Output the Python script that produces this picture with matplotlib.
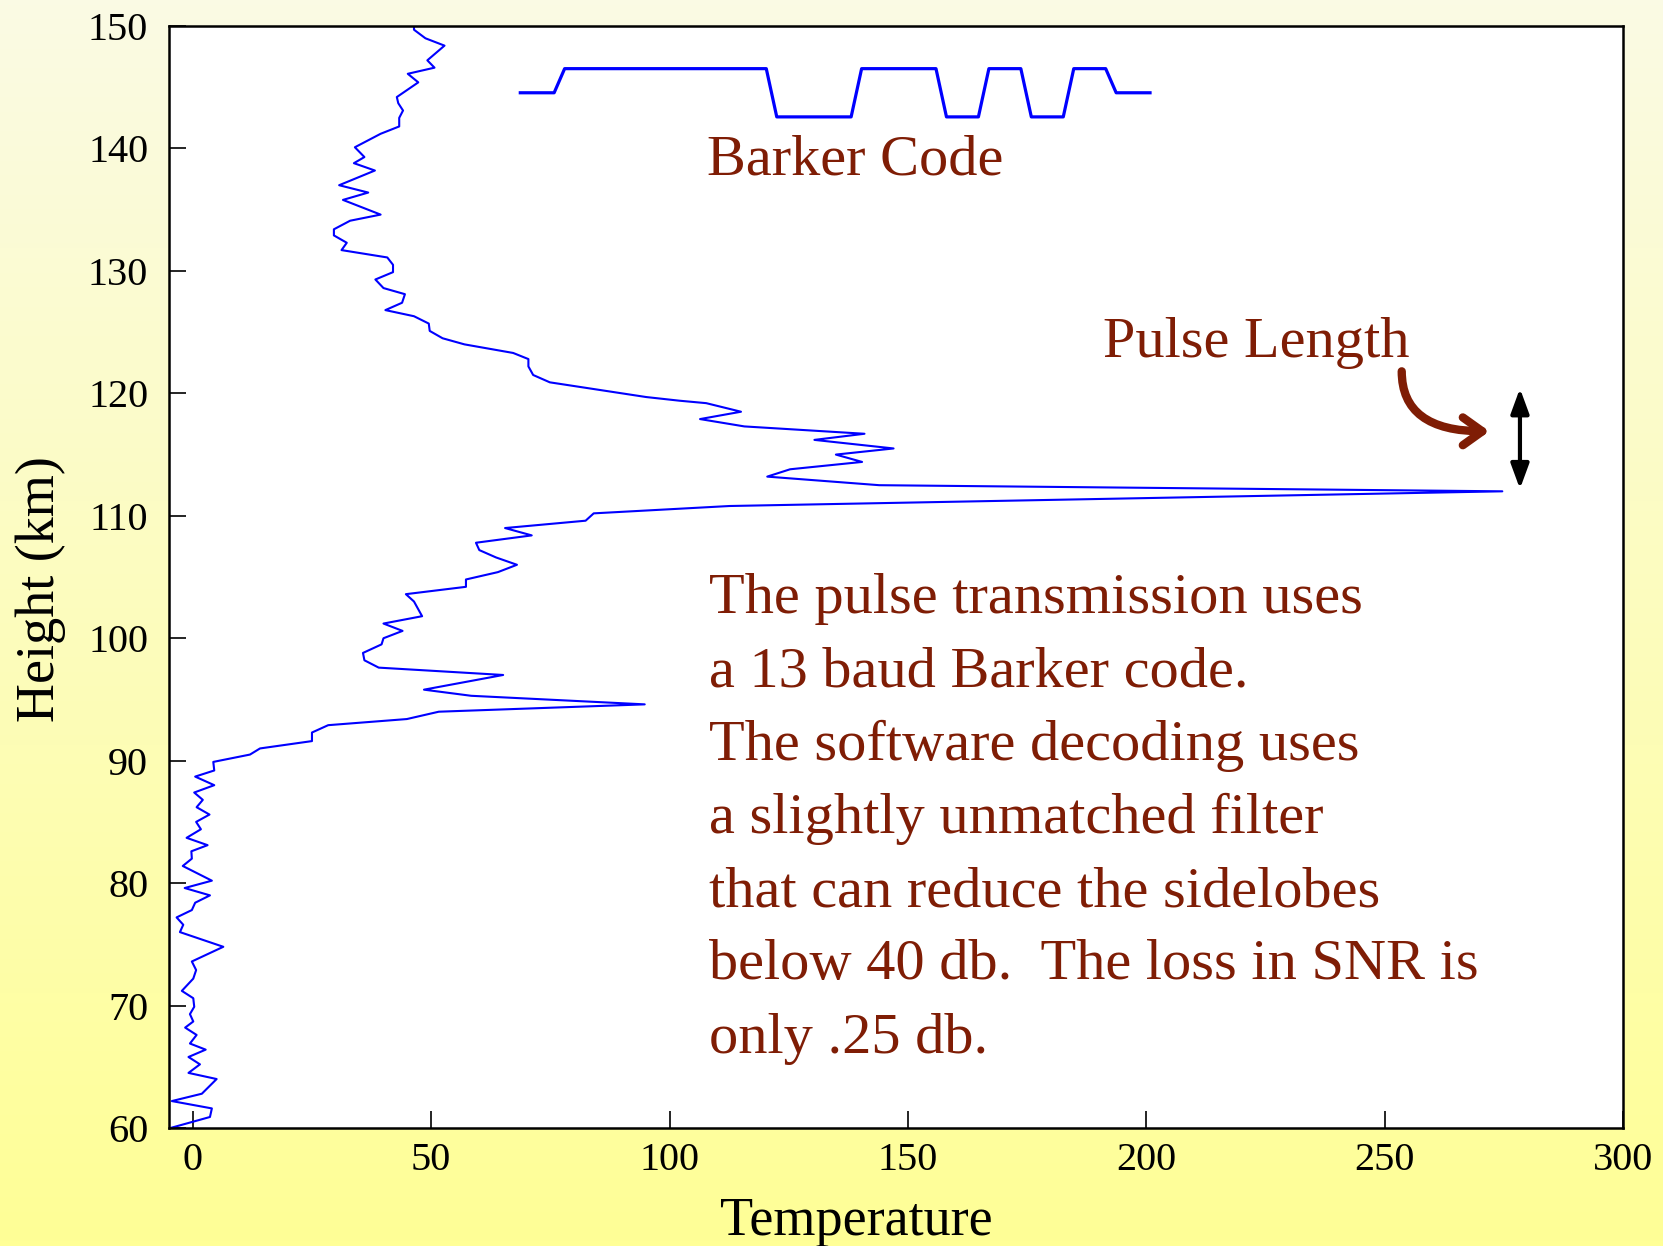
import matplotlib.pyplot as plt
import numpy as np

plt.rcParams["font.family"] = ["Liberation Serif", "DejaVu Serif"]

# Temperature profile (height in km, temperature)
height_km = [
    60.0, 60.9, 61.6, 62.2, 62.8, 64.0, 64.5, 65.2, 65.8, 66.4,
    66.9, 67.6, 68.2, 68.7, 69.3, 69.9, 70.6, 71.2, 72.2, 72.9,
    73.6, 74.8, 76.0, 76.6, 77.2, 77.8, 78.4, 79.0, 79.6, 80.2,
    81.4, 82.0, 82.6, 83.1, 83.7, 84.4, 85.0, 85.6, 86.2, 86.8,
    87.4, 88.0, 88.7, 89.2, 89.9, 90.5, 91.0, 91.6, 92.3, 92.9,
    93.4, 94.0, 94.6, 95.3, 95.8, 97.0, 97.6, 98.2, 98.8, 99.5,
    100.0, 100.6, 101.2, 101.8, 103.0, 103.6, 104.2, 104.8, 105.4, 106.0,
    106.6, 107.2, 107.8, 108.4, 109.0, 109.6, 110.2, 110.8, 112.0, 112.5,
    113.2, 113.8, 114.4, 115.0, 115.5, 116.2, 116.7, 117.3, 117.9, 118.5,
    119.2, 119.4, 119.7, 120.9, 121.5, 122.2, 122.8, 123.3, 124.0, 124.5,
    125.1, 125.7, 126.3, 126.8, 127.4, 128.1, 128.6, 129.3, 129.9, 130.5,
    131.1, 131.7, 132.3, 132.9, 133.4, 134.1, 134.6, 135.8, 136.4, 137.0,
    138.2, 138.8, 139.3, 140.1, 141.2, 141.8, 142.5, 143.1, 143.7, 144.2,
    145.4, 146.1, 146.6, 147.2, 148.4, 149.0, 149.7, 150.0,
]
temperature = [
    -4.7, 3.6, 4.0, -4.4, 1.9, 5.0, -0.9, 1.5, -0.9, 2.7,
    -0.6, 0.8, -1.6, 0.1, -0.6, 0.3, 0.1, -2.3, 0.1, 0.7,
    -0.2, 6.4, -2.7, -2.0, -3.4, -0.2, 0.5, 3.6, -1.7, 4.0,
    -2.1, -0.2, -0.3, 3.1, -1.3, 1.7, 0.7, 3.5, 0.8, 2.1,
    0.3, 4.5, 0.5, 4.5, 4.3, 12.0, 14.1, 25.0, 25.0, 28.4,
    44.9, 51.6, 94.8, 58.4, 48.5, 65.1, 39.0, 36.0, 35.7, 39.6,
    40.0, 44.0, 40.0, 48.1, 46.4, 44.7, 57.3, 57.3, 64.0, 68.0,
    63.6, 60.1, 59.4, 71.1, 65.5, 82.4, 84.1, 112.6, 274.7, 144.0,
    120.5, 125.3, 140.4, 134.9, 147.0, 130.4, 140.9, 115.7, 106.4, 115.0,
    107.7, 102.1, 95.1, 74.9, 71.4, 70.4, 70.4, 67.2, 57.0, 52.4,
    49.7, 49.5, 46.4, 40.4, 43.9, 44.5, 40.0, 38.3, 42.0, 42.0,
    40.8, 31.2, 32.3, 29.6, 29.6, 33.0, 39.4, 31.5, 36.8, 30.7,
    38.2, 33.8, 36.0, 34.0, 39.4, 43.3, 43.3, 44.1, 43.1, 42.8,
    47.3, 45.1, 50.7, 49.2, 52.8, 48.8, 46.4, 46.4,
]

# 13 baud Barker code
barker_chips = [1, 1, 1, 1, 1, -1, -1, 1, 1, -1, 1, -1, 1]

note_lines = [
    "The pulse transmission uses",
    "a 13 baud Barker code.",
    "The software decoding uses",
    "a slightly unmatched filter",
    "that can reduce the sidelobes",
    "below 40 db.  The loss in SNR is",
    "only .25 db.",
]

text_red = "#7f1d05"

fig = plt.figure(figsize=(16.63, 12.46), dpi=100)

# pale cream-to-yellow backdrop
bg = fig.add_axes([0, 0, 1, 1], zorder=-10)
top_rgb = np.array([250, 250, 228]) / 255
bottom_rgb = np.array([255, 255, 150]) / 255
frac = np.linspace(0, 1, 256)[:, None]
grad = (top_rgb * (1 - frac) + bottom_rgb * frac)[:, None, :]
bg.imshow(grad, aspect="auto", extent=[0, 1, 0, 1])
bg.axis("off")

ax = fig.add_axes([0.1016, 0.0947, 0.8743, 0.8844])
ax.set_facecolor("white")
ax.plot(temperature, height_km, color="#0000ff", lw=1.5)

# Barker code waveform drawn over the profile
chip_w = 8.9
t0 = 76.9
ramp = 1.1
lead = 8.2
base_h, amp = 144.55, 1.97
wx = [t0 - lead, t0 - ramp]
wy = [base_h, base_h]
for k, c in enumerate(barker_chips):
    left = t0 + k * chip_w
    wx += [left + ramp, left + chip_w - ramp]
    wy += [base_h + amp * c, base_h + amp * c]
end = t0 + len(barker_chips) * chip_w
wx += [end + ramp, end + lead]
wy += [base_h, base_h]
ax.plot(wx, wy, color="#0000ff", lw=2.3)

ax.text(107.8, 137.86, "Barker Code", color=text_red, fontsize=42, va="baseline")
ax.text(190.9, 122.94, "Pulse Length", color=text_red, fontsize=42, va="baseline")
for i, line in enumerate(note_lines):
    ax.text(108.2, 102.04 - 5.98 * i, line, color=text_red, fontsize=42, va="baseline")

# pulse length marker
ax.annotate("", xy=(278.4, 112.2), xytext=(278.4, 120.4),
            arrowprops=dict(arrowstyle="<|-|>,head_length=0.6,head_width=0.22",
                            mutation_scale=25, color="black", lw=3,
                            shrinkA=0, shrinkB=0))
ax.annotate("", xy=(272.0, 116.9), xytext=(253.6, 121.8),
            arrowprops=dict(arrowstyle="->,head_length=0.7,head_width=0.5",
                            mutation_scale=20, color=text_red, lw=6,
                            capstyle="round", joinstyle="round",
                            connectionstyle="angle3,angleA=90,angleB=0",
                            shrinkA=0, shrinkB=0))

ax.set_xlim(-5, 300)
ax.set_ylim(60, 150)
ax.set_xticks(np.arange(0, 301, 50))
ax.set_yticks(np.arange(60, 151, 10))
ax.tick_params(direction="in", length=12, width=1.2, labelsize=29, color="black")
ax.tick_params(axis="x", pad=10)
ax.tick_params(axis="y", pad=15)
for s in ax.spines.values():
    s.set_linewidth(1.8)

ax.set_xlabel("Temperature", fontsize=39, va="center")
ax.xaxis.set_label_coords(0.473, -0.085)
ax.set_ylabel("Height (km)", fontsize=39, va="center")
ax.yaxis.set_label_coords(-0.088, 0.489)

fig.savefig("out.png", dpi=100)
